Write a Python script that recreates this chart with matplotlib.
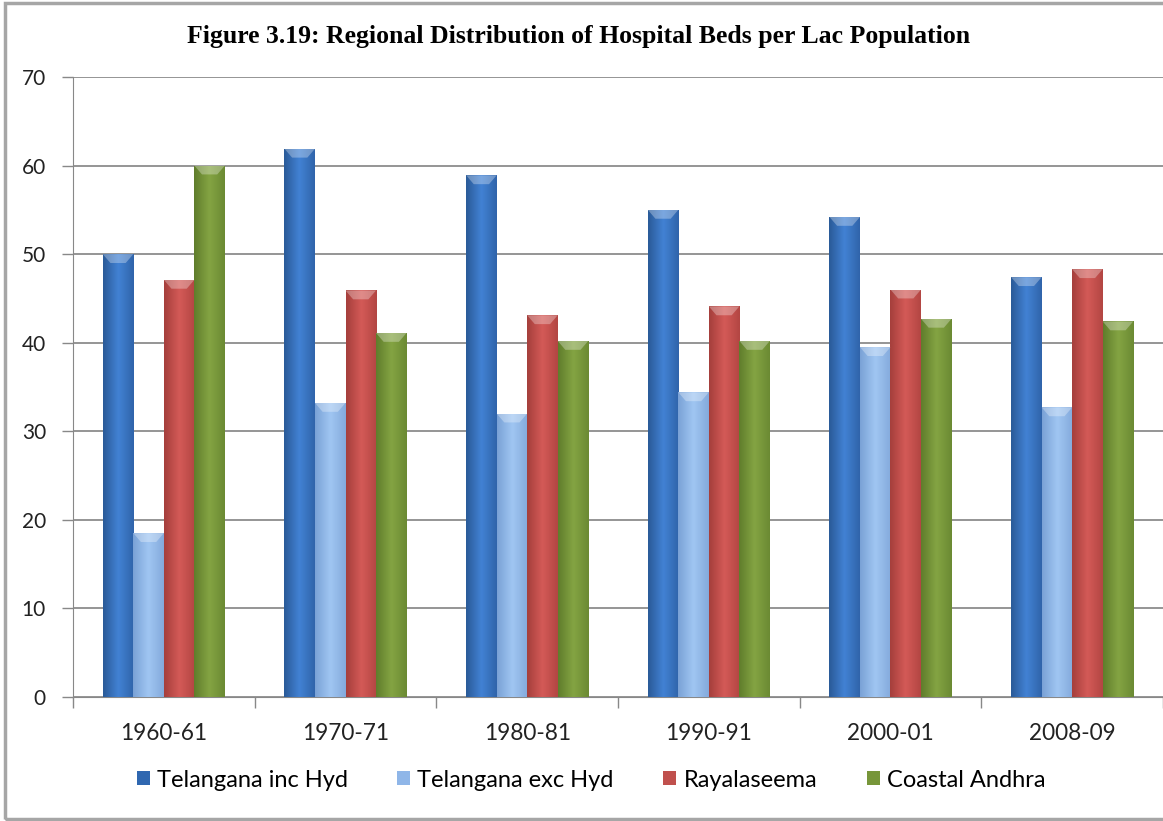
import numpy as np
from matplotlib import pyplot as plt
from matplotlib.colors import LinearSegmentedColormap
from matplotlib.patches import Rectangle, Patch, Polygon

years = ['1960-61', '1970-71', '1980-81', '1990-91', '2000-01', '2008-09']
series = ['Telangana inc Hyd', 'Telangana exc Hyd', 'Rayalaseema', 'Coastal Andhra']
tel_inc = [50.0, 61.9, 58.9, 55.0, 54.2, 47.4]
tel_exc = [18.5, 33.2, 32.0, 34.4, 39.5, 32.7]
rayal = [47.1, 45.9, 43.1, 44.1, 46.0, 48.3]
coastal = [60.0, 41.1, 40.2, 40.2, 42.7, 42.4]
values = [tel_inc, tel_exc, rayal, coastal]

# left edge, middle, right edge of each bar's shading
shades = [
    ['#2a5a98', '#4282d4', '#3064aa'],
    ['#7aa2d6', '#a0c6f2', '#84aadc'],
    ['#a53f3c', '#d45a57', '#b34643'],
    ['#607d2c', '#84a443', '#6b8a33'],
]
legend_cols = ['#2f67b0', '#8fb6e8', '#c0504d', '#77963a']

plt.rcParams['font.family'] = ['Lato', 'DejaVu Sans']

fig = plt.figure(figsize=(11.63, 8.21), dpi=100)
ax = fig.add_axes([73/1163, 1-697/821, 1090/1163, 620/821])

x = np.arange(len(years))
w = 0.168
grad = np.linspace(0, 1, 64).reshape(1, -1)
for k in range(4):
    pos = x + (k - 1.5) * w
    bars = ax.bar(pos, values[k], width=w, color=legend_cols[k], zorder=3,
                  edgecolor='none')
    cm = LinearSegmentedColormap.from_list('s%d' % k, shades[k])
    for b in bars:
        x0, y0 = b.get_x(), b.get_y()
        bw, bh = b.get_width(), b.get_height()
        im = ax.imshow(grad, extent=[x0, x0+bw, y0, y0+bh], aspect='auto',
                       cmap=cm, zorder=4, interpolation='bicubic')
        im.set_clip_path(b)
        # lighter bevel cap at the top
        top = y0 + bh
        cap = Polygon([[x0, top], [x0+bw, top], [x0+0.75*bw, top-1.0], [x0+0.25*bw, top-1.0]],
                      closed=True, facecolor='white', alpha=0.3, edgecolor='none', zorder=5)
        ax.add_patch(cap)

ax.set_xlim(-0.5, 5.5)
ax.set_ylim(0, 70)
ax.set_yticks(range(0, 71, 10))
ax.set_xticks(x)
ax.set_xticklabels(years)
ax.set_xticks(np.arange(-0.5, 6, 1), minor=True)
ax.tick_params(axis='x', which='major', length=0, pad=19, labelsize=16.3, colors='#222222')
ax.tick_params(axis='x', which='minor', length=8, width=1, color='#888888')
ax.tick_params(axis='y', length=8, width=1, color='#888888', pad=11.5, labelsize=15,
               labelcolor='#222222')
ax.yaxis.grid(True, color='#8c8c8c', lw=1.3, zorder=0)
for s in ['top', 'right']:
    ax.spines[s].set_visible(False)
ax.spines['left'].set_color('#888888')
ax.spines['bottom'].set_color('#888888')

fig.text(579/1163, 1-36/821, 'Figure 3.19: Regional Distribution of Hospital Beds per Lac Population',
         ha='center', va='center', fontsize=18.5, fontweight='bold',
         family='Liberation Serif')

handles = [Patch(facecolor=legend_cols[k], edgecolor='none') for k in range(4)]
fig.legend(handles, series, loc='center', bbox_to_anchor=(591/1163, 1-780/821), ncol=4,
           frameon=False, fontsize=17, handlelength=0.55, handleheight=0.55,
           handletextpad=0.3, columnspacing=2.1)

fig.patches.append(Rectangle((5/1163, 2/821), 1.2, 1-5/821, transform=fig.transFigure,
                             fill=False, edgecolor='#a6a6a6', lw=2.5))

fig.savefig('out.png', dpi=100)
